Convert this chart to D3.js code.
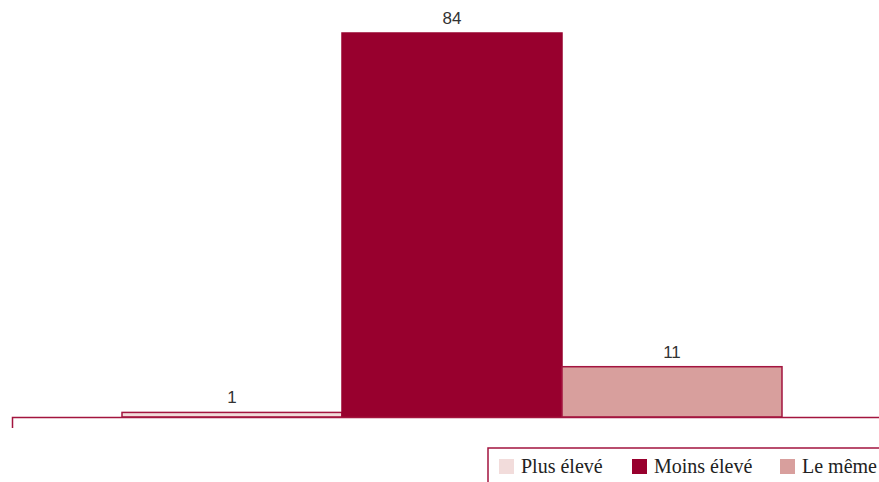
<!DOCTYPE html>
<html><head><meta charset="utf-8">
<script src="https://cdn.jsdelivr.net/npm/d3@7"></script>
<style>body{margin:0;background:#fff}svg{display:block}</style>
</head><body>
<svg id="chart" width="879" height="482"></svg>
<script>
const categories = [""];
const seriesNames = ["Plus élevé", "Moins élevé", "Le même"];
const seriesValues = [1, 84, 11];
const seriesColors = ["#F2DCDB", "#98002E", "#D89F9D"];
const strokeColor = "#A3153F";

const svg = d3.select("#chart");
const baseY = 417;
const x0 = d3.scaleBand().domain(categories).range([12, 892]).padding(0);
const x1 = d3.scaleBand().domain(seriesNames).range([0, x0.bandwidth()]).paddingInner(0).paddingOuter(0.5);
const y = d3.scaleLinear().domain([0, 84]).range([baseY, 33]);

const g = svg.append("g");
const grp = g.selectAll("g.grp").data(categories).join("g")
  .attr("transform", d => `translate(${x0(d)},0)`);

const data = seriesNames.map((s, i) => ({s, v: seriesValues[i], c: seriesColors[i]}));
grp.selectAll("rect").data(data).join("rect")
  .attr("x", d => x1(d.s))
  .attr("y", d => y(d.v))
  .attr("width", x1.bandwidth())
  .attr("height", d => baseY - y(d.v))
  .attr("fill", d => d.c)
  .attr("stroke", (d, i) => i === 1 ? d.c : strokeColor)
  .attr("stroke-width", 1.5);

grp.selectAll("text.lbl").data(data).join("text")
  .attr("class", "lbl")
  .attr("x", d => x1(d.s) + x1.bandwidth() / 2)
  .attr("y", d => y(d.v) - 9)
  .attr("text-anchor", "middle")
  .attr("font-family", "'Liberation Sans Narrow', 'Liberation Sans', Arial, sans-serif")
  .attr("font-size", 17)
  .attr("fill", "#333")
  .text(d => d.v);

const axis = svg.append("g").attr("transform", `translate(0,${baseY})`)
  .call(d3.axisBottom(x0).tickSizeInner(0).tickSizeOuter(11).tickFormat(""));
axis.select(".domain").attr("stroke", strokeColor).attr("stroke-width", 1.5);
axis.selectAll(".tick").remove();

// Legend
const leg = svg.append("g");
leg.append("rect").attr("x", 488).attr("y", 448).attr("width", 420).attr("height", 60)
  .attr("fill", "#fff").attr("stroke", strokeColor).attr("stroke-width", 1.5);
const legX = [499, 632, 780];
const items = leg.selectAll("g.item").data(data).join("g").attr("class", "item")
  .attr("transform", (d, i) => `translate(${legX[i]},459)`);
items.append("rect").attr("width", 15).attr("height", 15).attr("fill", d => d.c);
items.append("text").attr("x", 22).attr("y", 14)
  .attr("font-family", "Liberation Serif, 'Times New Roman', serif")
  .attr("font-size", 20).attr("fill", "#222")
  .text(d => d.s);
</script>
</body></html>
